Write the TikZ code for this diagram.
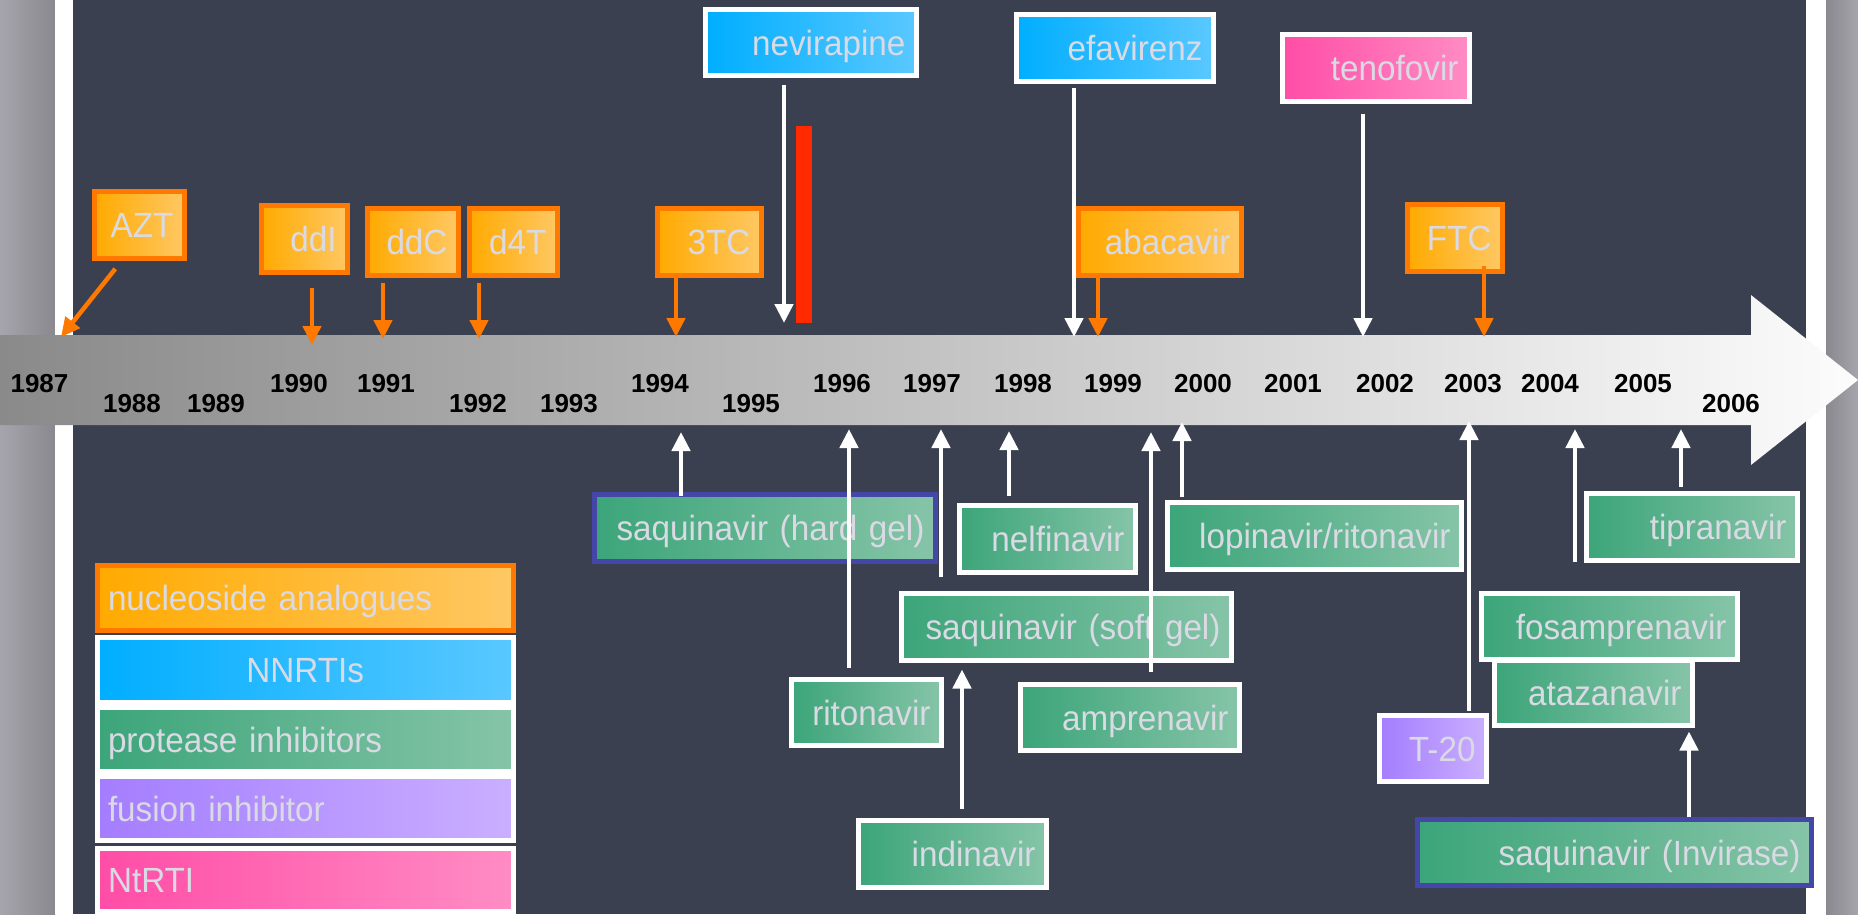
\documentclass[tikz,border=0pt]{standalone}
\usepackage{fontspec}
\setmainfont{Liberation Sans}
\newfontfamily\lightsans{Liberation Sans}[FakeStretch=0.95]
\usetikzlibrary{arrows.meta}
\definecolor{panel}{RGB}{59,64,80}
\definecolor{sideA}{RGB}{166,164,172}
\definecolor{sideB}{RGB}{138,137,143}
\definecolor{bandA}{RGB}{138,138,138}
\definecolor{bandB}{RGB}{252,252,252}
\definecolor{nucA}{RGB}{255,170,0}
\definecolor{nucB}{RGB}{255,200,100}
\definecolor{nucline}{RGB}{255,120,0}
\definecolor{nnA}{RGB}{0,174,255}
\definecolor{nnB}{RGB}{90,200,255}
\definecolor{piA}{RGB}{60,165,122}
\definecolor{piB}{RGB}{134,196,168}
\definecolor{fiA}{RGB}{164,125,255}
\definecolor{fiB}{RGB}{202,175,255}
\definecolor{ntA}{RGB}{255,77,166}
\definecolor{ntB}{RGB}{255,140,196}
\definecolor{label}{RGB}{218,218,228}
\definecolor{sqline}{RGB}{68,70,168}
\definecolor{redbar}{RGB}{255,42,0}
\newcommand{\drugfont}{\lightsans\fontsize{35}{40}\selectfont\spaceskip=0.2em plus 0.05em}
\newcommand{\yearfont}{\fontsize{26}{30}\selectfont\bfseries}
\tikzstyle{every drug} = [font=\drugfont, text=label, line width=5pt, inner xsep=11pt, inner ysep=0pt, text height=25pt, text depth=0pt, align=right]
\tikzstyle{nuc} = [every drug, draw=nucline, left color=nucA, right color=nucB]
\tikzstyle{nnrti} = [every drug, draw=white, left color=nnA, right color=nnB]
\tikzstyle{pi} = [every drug, draw=white, left color=piA, right color=piB]
\tikzstyle{fi} = [every drug, draw=white, left color=fiA, right color=fiB]
\tikzstyle{ntrti} = [every drug, draw=white, left color=ntA, right color=ntB]
\tikzstyle{year} = [font=\yearfont, text=black, inner sep=0pt, text height=18.7pt, text depth=0pt]
\tikzstyle{link} = [draw=white, line width=4.5pt, -{Triangle[width=18pt, length=19pt]}]
\tikzstyle{nucarrow} = [link, draw=nucline]
\tikzset{spot/.style n args={4}{at={({(#1+#3)/2},{(#2+#4)/2})}, minimum width={#3-#1-5}, minimum height={#4-#2-5}, text width={#3-#1-27}}}

\begin{document}
\begin{tikzpicture}[x=1pt, y=-1pt]
        \useasboundingbox (0,0) rectangle (1858,914);
        \clip (0,0) rectangle (1858,914);
        % slide
        \shade[left color=sideA, right color=sideB] (0,0) rectangle (55,914);
        \fill[white] (55,0) rectangle (73,914);
        \fill[panel] (73,0) rectangle (1806,914);
        \fill[white] (1806,0) rectangle (1826,914);
        \shade[left color=sideB, right color=sideA] (1826,0) rectangle (1858,914);
        \shade[left color=bandA, right color=bandB] (0,335) -- (1751,335) -- (1751,295) -- (1858,380) -- (1751,465) -- (1751,425) -- (0,425) -- cycle;
        \fill[redbar] (796,126) rectangle (812,323);

        \node[year] (y1987) at (39.5,383.5) {1987};
        \node[year] (y1988) at (132,403.5) {1988};
        \node[year] (y1989) at (216,403.5) {1989};
        \node[year] (y1990) at (299,383.5) {1990};
        \node[year] (y1991) at (386,383.5) {1991};
        \node[year] (y1992) at (478,403.5) {1992};
        \node[year] (y1993) at (569,403.5) {1993};
        \node[year] (y1994) at (660,383.5) {1994};
        \node[year] (y1995) at (751,403.5) {1995};
        \node[year] (y1996) at (842,383.5) {1996};
        \node[year] (y1997) at (932,383.5) {1997};
        \node[year] (y1998) at (1023,383.5) {1998};
        \node[year] (y1999) at (1113,383.5) {1999};
        \node[year] (y2000) at (1203,383.5) {2000};
        \node[year] (y2001) at (1293,383.5) {2001};
        \node[year] (y2002) at (1385,383.5) {2002};
        \node[year] (y2003) at (1473,383.5) {2003};
        \node[year] (y2004) at (1550,383.5) {2004};
        \node[year] (y2005) at (1643,383.5) {2005};
        \node[year] (y2006) at (1731,403.5) {2006};

        \node[nuc, spot={92}{189}{187}{261}] (azt) {AZT};
        \node[nuc, spot={259}{203}{350}{275}] (ddi) {ddI};
        \node[nuc, spot={365}{206}{461}{278}] (ddc) {ddC};
        \node[nuc, spot={467}{206}{560}{278}] (d4t) {d4T};
        \node[nuc, spot={655}{206}{764}{278}] (tc3) {3TC};
        \node[nuc, spot={1076}{206}{1244}{278}] (abacavir) {abacavir};
        \node[nuc, spot={1405}{202}{1505}{274}] (ftc) {FTC};
        \node[nnrti, spot={703}{7}{919}{78}] (nevirapine) {nevirapine};
        \node[nnrti, spot={1014}{12}{1216}{84}] (efavirenz) {efavirenz};
        \node[ntrti, spot={1280}{32}{1472}{104}] (tenofovir) {tenofovir};

        \node[pi, draw=sqline, spot={592}{492}{938}{564}] (hardgel) {saquinavir (hard gel)};
        \node[pi, spot={789}{677}{944}{748}] (ritonavir) {ritonavir};
        \node[pi, spot={899}{591}{1234}{663}] (softgel) {saquinavir (soft gel)};
        \node[pi, spot={856}{818}{1049}{890}] (indinavir) {indinavir};
        \node[pi, spot={957}{503}{1138}{575}] (nelfinavir) {nelfinavir};
        \node[pi, spot={1018}{682}{1242}{753}] (amprenavir) {amprenavir};
        \node[pi, spot={1165}{500}{1464}{572}] (lopinavir) {lopinavir/ritonavir};
        \node[fi, spot={1377}{713}{1489}{784}] (t20) {T-20};
        \node[pi, spot={1584}{491}{1800}{563}] (tipranavir) {tipranavir};
        \node[pi, spot={1492}{658}{1695}{728}] (atazanavir) {atazanavir};
        \node[pi, spot={1479}{591}{1740}{662}] (fosamprenavir) {fosamprenavir};
        \node[pi, draw=sqline, spot={1415}{817}{1814}{888}] (invirase) {saquinavir (Invirase)};

        % legend
        \node[nuc, align=left, spot={94.5}{563}{516}{633}] (keynuc) {nucleoside analogues};
        \node[nnrti, align=center, spot={94.5}{635}{516}{705}] (keynnrti) {NNRTIs};
        \node[pi, align=left, spot={94.5}{705}{516}{774}] (keypi) {protease inhibitors};
        \node[fi, align=left, spot={94.5}{774}{516}{843}] (keyfi) {fusion inhibitor};
        \node[ntrti, align=left, spot={94.5}{846}{516}{914}] (keyntrti) {NtRTI};

        \coordinate (aztEnd) at (61,337);
        \coordinate (ddiEnd) at (312,345);
        \coordinate (ddcEnd) at (383,339);
        \coordinate (d4tEnd) at (479,339);
        \coordinate (tcEnd) at (676,337);
        \coordinate (abcEnd) at (1098,337);
        \coordinate (ftcEnd) at (1484,337);
        \coordinate (nvpEnd) at (784,323);
        \coordinate (efvEnd) at (1074,337);
        \coordinate (tdfEnd) at (1363,337);
        \coordinate (sqhEnd) at (681,432);
        \coordinate (rtvEnd) at (849,429);
        \coordinate (sqsEnd) at (941,429);
        \coordinate (nfvEnd) at (1009,431);
        \coordinate (apvEnd) at (1151,432);
        \coordinate (lpvEnd) at (1182,422);
        \coordinate (enfEnd) at (1469,421);
        \coordinate (fpvEnd) at (1575,429);
        \coordinate (tpvEnd) at (1681,429);
        \coordinate (idvAxis) at (962,0);
        \coordinate (invAxis) at (1689,0);

        \draw[nucarrow, shorten <=10pt] ([xshift=-18pt]azt.south) -- (aztEnd);
        \draw[nucarrow, shorten <=12.5pt] (ddi.south -| ddiEnd) -- (ddiEnd);
        \draw[nucarrow, shorten <=4.5pt] (ddc.south -| ddcEnd) -- (ddcEnd);
        \draw[nucarrow, shorten <=4.5pt] (d4t.south -| d4tEnd) -- (d4tEnd);
        \draw[nucarrow] (tc3.south -| tcEnd) -- (tcEnd);
        \draw[nucarrow] (abacavir.south -| abcEnd) -- (abcEnd);
        \draw[nucarrow, shorten <=-8.5pt] (ftc.south -| ftcEnd) -- (ftcEnd);

        \draw[link, shorten <=6.5pt] (nevirapine.south -| nvpEnd) -- (nvpEnd);
        \draw[link, shorten <=3.5pt] (efavirenz.south -| efvEnd) -- (efvEnd);
        \draw[link, shorten <=9.5pt] (tenofovir.south -| tdfEnd) -- (tdfEnd);

        \draw[link, shorten <=-3.5pt] (hardgel.north -| sqhEnd) -- (sqhEnd);
        \draw[link, shorten <=9.5pt] (ritonavir.north -| rtvEnd) -- (rtvEnd);
        \draw[link, shorten <=14.5pt] (softgel.north -| sqsEnd) -- (sqsEnd);
        \draw[link, shorten <=7.5pt] (nelfinavir.north -| nfvEnd) -- (nfvEnd);
        \draw[link, shorten <=10.5pt] (amprenavir.north -| apvEnd) -- (apvEnd);
        \draw[link, shorten <=3.5pt] (lopinavir.north -| lpvEnd) -- (lpvEnd);
        \draw[link, shorten <=2.5pt] (t20.north -| enfEnd) -- (enfEnd);
        \draw[link, shorten <=29.5pt] (fosamprenavir.north -| fpvEnd) -- (fpvEnd);
        \draw[link, shorten <=4.5pt] (tipranavir.north -| tpvEnd) -- (tpvEnd);
        \draw[link, shorten <=9.5pt, shorten >=6.5pt] (indinavir.north -| idvAxis) -- (softgel.south -| idvAxis);
        \draw[link, shorten >=3.5pt] (invirase.north -| invAxis) -- (atazanavir.south -| invAxis);
\end{tikzpicture}
\end{document}
